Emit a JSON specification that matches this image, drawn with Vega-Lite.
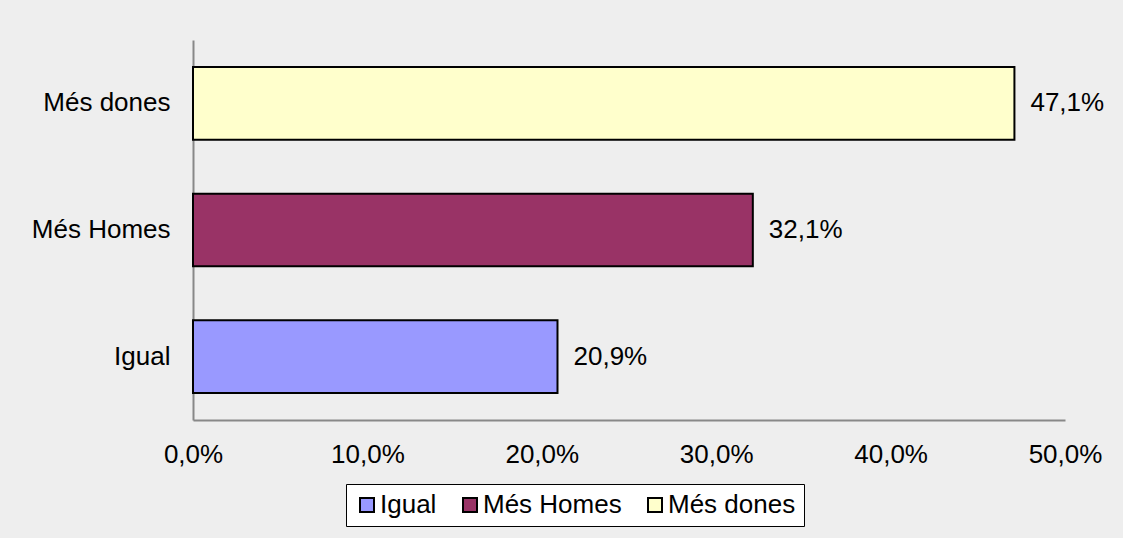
{
  "$schema": "https://vega.github.io/schema/vega-lite/v6.json",
  "width": 872,
  "height": 380,
  "autosize": {"type": "none"},
  "padding": {"left": 193, "top": 40, "right": 58, "bottom": 118},
  "background": "#eeeeee",
  "config": {
    "locale": {"number": {"decimal": ",", "thousands": ".", "grouping": [3], "currency": ["", " €"]}},
    "font": "Liberation Sans",
    "view": {"stroke": null}
  },
  "data": {
    "values": [
      {"categoria": "Igual", "valor": 0.209},
      {"categoria": "Més Homes", "valor": 0.321},
      {"categoria": "Més dones", "valor": 0.471}
    ]
  },
  "encoding": {
    "y": {
      "field": "categoria",
      "type": "nominal",
      "sort": ["Més dones", "Més Homes", "Igual"],
      "scale": {"paddingInner": 0.426, "paddingOuter": 0.213},
      "axis": {
        "title": null,
        "ticks": false,
        "domainColor": "#888888",
        "domainWidth": 2,
        "labelFontSize": 26,
        "labelColor": "#000000",
        "labelPadding": 23,
        "labelFont": "Liberation Sans"
      }
    },
    "x": {
      "field": "valor",
      "type": "quantitative",
      "scale": {"domain": [0, 0.5]},
      "axis": {
        "title": null,
        "values": [0, 0.1, 0.2, 0.3, 0.4, 0.5],
        "format": ".1%",
        "grid": false,
        "ticks": false,
        "domainColor": "#888888",
        "domainWidth": 2,
        "labelFontSize": 26,
        "labelColor": "#000000",
        "labelPadding": 21,
        "labelFlush": false,
        "labelFont": "Liberation Sans"
      }
    }
  },
  "layer": [
    {
      "mark": {"type": "bar", "stroke": "#000000", "strokeWidth": 2, "opacity": 1},
      "encoding": {
        "color": {
          "field": "categoria",
          "type": "nominal",
          "sort": ["Igual", "Més Homes", "Més dones"],
          "scale": {"domain": ["Igual", "Més Homes", "Més dones"], "range": ["#9999ff", "#993366", "#ffffcc"]},
          "legend": {
            "title": null,
            "orient": "none",
            "direction": "horizontal",
            "legendX": 153,
            "legendY": 444,
            "fillColor": "#ffffff",
            "strokeColor": "#000000",
            "padding": 8,
            "symbolType": "square",
            "symbolSize": 196,
            "symbolStrokeColor": "#000000",
            "symbolStrokeWidth": 2,
            "symbolOpacity": 1,
            "labelFontSize": 26,
            "labelColor": "#000000",
            "labelFont": "Liberation Sans",
            "labelOffset": 0,
            "columnPadding": 20
          }
        }
      }
    },
    {
      "mark": {"type": "text", "align": "left", "dx": 16, "fontSize": 26, "color": "#000000"},
      "encoding": {
        "text": {"field": "valor", "type": "quantitative", "format": ".1%"}
      }
    }
  ]
}
